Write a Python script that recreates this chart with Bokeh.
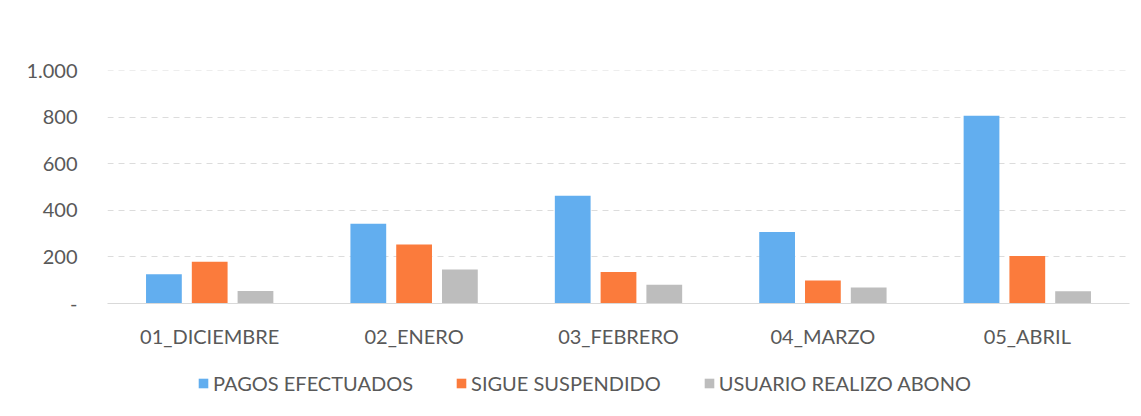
from bokeh.plotting import figure
from bokeh.models import ColumnDataSource, FactorRange, Range1d, Legend, LegendItem
from bokeh.layouts import column
from bokeh.transform import dodge
from bokeh.embed import file_html
from bokeh.resources import INLINE

categories = ["01_DICIEMBRE", "02_ENERO", "03_FEBRERO", "04_MARZO", "05_ABRIL"]
pagos = [126, 343, 463, 307, 807]
sigue = [180, 254, 136, 99, 204]
usuario = [54, 146, 81, 69, 53]
series_names = ["PAGOS EFECTUADOS", "SIGUE SUSPENDIDO", "USUARIO REALIZO ABONO"]
y_ticks = [0, 200, 400, 600, 800, 1000]
y_tick_labels = ["-", "200", "400", "600", "800", "1.000"]

colors = ["#62AEEF", "#FB7B3C", "#BDBDBD"]
FONT = "Lato"
TXT = "#595959"

src = ColumnDataSource(dict(cat=categories, pagos=pagos, sigue=sigue, usuario=usuario))

p = figure(x_range=FactorRange(*categories), y_range=Range1d(0, 1002),
           frame_width=1022, frame_height=233, output_backend="svg", toolbar_location=None,
           min_border_left=107, min_border_right=6, min_border_top=70, min_border_bottom=50)

bw = 0.175
off = 0.224
r1 = p.vbar(x=dodge("cat", -off, range=p.x_range), top="pagos", width=bw, source=src,
            fill_color=colors[0], line_color=None)
r2 = p.vbar(x=dodge("cat", 0.0, range=p.x_range), top="sigue", width=bw, source=src,
            fill_color=colors[1], line_color=None)
r3 = p.vbar(x=dodge("cat", off, range=p.x_range), top="usuario", width=bw, source=src,
            fill_color=colors[2], line_color=None)

p.outline_line_color = None
p.xgrid.grid_line_color = None
p.ygrid.grid_line_color = "#dcdcdc"
p.ygrid.grid_line_dash = "6 5"
p.ygrid.grid_line_width = 1

p.yaxis.ticker = y_ticks
p.yaxis.major_label_overrides = {t: l for t, l in zip(y_ticks, y_tick_labels)}
p.yaxis.axis_line_color = None
p.yaxis.major_tick_line_color = None
p.yaxis.minor_tick_line_color = None
p.yaxis.major_label_text_font = FONT
p.yaxis.major_label_text_font_size = "20px"
p.yaxis.major_label_text_color = TXT
p.yaxis.major_label_standoff = 24

p.xaxis.axis_line_color = "#d9d9d9"
p.xaxis.major_tick_line_color = None
p.xaxis.minor_tick_line_color = None
p.xaxis.major_label_text_font = FONT
p.xaxis.major_label_text_font_size = "20px"
p.xaxis.major_label_text_color = TXT
p.xaxis.major_label_standoff = 14

# legend strip below the chart (zero-height placeholder bars carry the swatches)
lf = figure(x_range=Range1d(0, 1), y_range=Range1d(0, 1),
            frame_width=1022, frame_height=56, output_backend="svg", toolbar_location=None,
            x_axis_type=None, y_axis_type=None,
            min_border_left=107, min_border_right=6, min_border_top=0, min_border_bottom=0)
lf.outline_line_color = None
lf.xgrid.visible = False
lf.ygrid.visible = False
leg_src = ColumnDataSource(dict(x=[0.5], top=[0.0]))
l1 = lf.vbar(x="x", top="top", width=0.01, source=leg_src, fill_color=colors[0], line_color=None)
l2 = lf.vbar(x="x", top="top", width=0.01, source=leg_src, fill_color=colors[1], line_color=None)
l3 = lf.vbar(x="x", top="top", width=0.01, source=leg_src, fill_color=colors[2], line_color=None)

legend = Legend(items=[LegendItem(label=series_names[0], renderers=[l1]),
                       LegendItem(label=series_names[1], renderers=[l2]),
                       LegendItem(label=series_names[2], renderers=[l3])],
                orientation="horizontal", location=(90, 14),
                glyph_width=12, glyph_height=12, label_standoff=4, spacing=42,
                label_text_font=FONT, label_text_font_size="20px", label_text_color=TXT,
                border_line_color=None, background_fill_alpha=0, padding=0, margin=0)
lf.add_layout(legend, "center")

layout = column(p, lf, spacing=0)
open("out.html", "w").write(file_html(layout, INLINE))
